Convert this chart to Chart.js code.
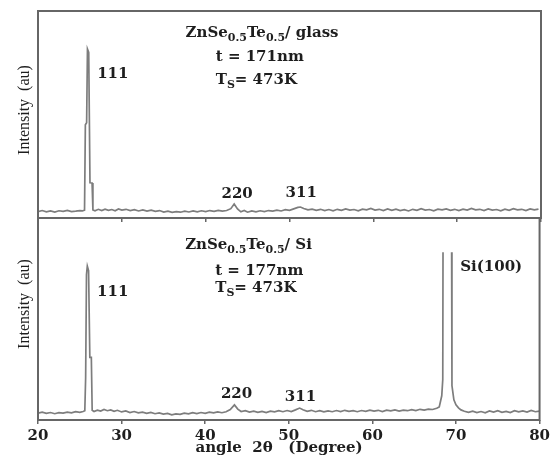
<!DOCTYPE html>
<html>
<head>
<meta charset="utf-8">
<script src="https://cdn.jsdelivr.net/npm/chart.js@4.4.0/dist/chart.umd.min.js"></script>
<style>
  body { margin: 0; background: #fff; }
  #wrap { position: relative; width: 553px; height: 455px; overflow: hidden; }
  canvas { position: absolute; left: 0; }
  #topChart { top: 0; }
  #bottomChart { top: 200px; }
</style>
</head>
<body>
<div id="wrap">
  <canvas id="topChart" width="553" height="240"></canvas>
  <canvas id="bottomChart" width="553" height="255"></canvas>
</div>
<script>
/////////////////////////// data ///////////////////////////
// XRD scan on glass (top panel): angle 2theta (deg) and intensity (au)
var anglesGlass = [
  20.0, 20.5, 21.0, 21.5, 22.0, 22.5, 23.0, 23.5, 24.0, 24.5, 25.0, 25.3, 25.55,
  25.65, 25.8, 25.9, 26.05, 26.2, 26.45, 26.55,
  26.8, 27.2, 27.6, 28.0, 28.4, 28.8, 29.2, 29.6, 30.0, 30.5, 31.0, 31.5, 32.0, 32.5,
  33.0, 33.5, 34.0, 34.5, 35.0, 35.5, 36.0, 36.5, 37.0, 37.5, 38.0, 38.5, 39.0, 39.5,
  40.0, 40.5, 41.0, 41.5, 42.0, 42.5, 43.0, 43.4, 43.8, 44.2, 44.6, 45.0, 45.5, 46.0,
  46.5, 47.0, 47.5, 48.0, 48.5, 49.0, 49.5, 50.0, 50.5, 51.0, 51.3, 51.7, 52.2, 52.7,
  53.2, 53.7, 54.2, 54.7, 55.2, 55.7, 56.2, 56.7, 57.2, 57.7, 58.2, 58.7, 59.2, 59.7,
  60.2, 60.7, 61.2, 61.7, 62.2, 62.7, 63.2, 63.7, 64.2, 64.7, 65.2, 65.7, 66.2, 66.7,
  67.2, 67.7, 68.2, 68.7, 69.2, 69.7, 70.2, 70.7, 71.2, 71.7, 72.2, 72.7, 73.2, 73.7,
  74.2, 74.7, 75.2, 75.7, 76.2, 76.7, 77.2, 77.7, 78.2, 78.7, 79.2, 79.7
];
var intensityGlass = [
  3.1, 3.6, 3.0, 3.4, 2.9, 3.5, 3.2, 3.7, 3.1, 3.3, 3.6, 3.4, 3.8,
  45, 46, 81.6, 80, 17, 16.9, 3.9,
  3.5, 4.2, 3.6, 4.3, 3.7, 4.1, 3.5, 4.4, 3.8, 4.2, 3.6, 4.0, 3.4, 3.9,
  3.3, 3.8, 3.2, 3.6, 2.9, 3.3, 2.7, 3.1, 2.8, 3.3, 2.9, 3.4, 3.0, 3.5,
  3.1, 3.6, 3.2, 3.7, 3.3, 3.6, 4.5, 6.8, 4.4, 3.0, 3.6, 2.8, 3.4, 3.0,
  3.5, 3.1, 3.6, 3.3, 3.8, 3.4, 4.0, 3.7, 4.4, 5.1, 5.3, 4.6, 3.9, 4.3,
  3.7, 4.2, 3.6, 4.1, 3.5, 4.2, 3.7, 4.4, 3.8, 4.1, 3.5, 4.3, 3.9, 4.6,
  3.8, 4.2, 3.6, 4.4, 3.7, 4.3, 3.6, 4.0, 3.4, 4.2, 3.7, 4.5, 3.8, 4.1,
  3.5, 4.3, 3.9, 4.4, 3.7, 4.2, 3.6, 4.3, 3.8, 4.6, 3.9, 4.2, 3.6, 4.4,
  3.8, 4.1, 3.5, 4.3, 3.7, 4.5, 3.9, 4.2, 3.6, 4.4, 3.9, 4.3
];

// XRD scan on Si (bottom panel); null = break in the trace at the Si(100) peak
var anglesSi = [
  20.0, 20.5, 21.0, 21.5, 22.0, 22.5, 23.0, 23.5, 24.0, 24.5, 25.0, 25.4, 25.6,
  25.7, 25.8, 25.9, 26.05, 26.2, 26.38, 26.48,
  26.7, 27.1, 27.5, 27.9, 28.3, 28.7, 29.1, 29.5, 30.0, 30.5, 31.0, 31.5, 32.0, 32.5,
  33.0, 33.5, 34.0, 34.5, 35.0, 35.5, 36.0, 36.5, 37.0, 37.5, 38.0, 38.5, 39.0, 39.5,
  40.0, 40.5, 41.0, 41.5, 42.0, 42.5, 43.0, 43.5, 43.9, 44.3, 44.8, 45.3, 45.8, 46.3,
  46.8, 47.3, 47.8, 48.3, 48.8, 49.3, 49.8, 50.3, 50.8, 51.3, 51.7, 52.2, 52.7, 53.2,
  53.7, 54.2, 54.7, 55.2, 55.7, 56.2, 56.7, 57.2, 57.7, 58.2, 58.7, 59.2, 59.7, 60.2,
  60.7, 61.2, 61.7, 62.2, 62.7, 63.2, 63.7, 64.2, 64.7, 65.2, 65.7, 66.2, 66.7, 67.2,
  67.7, 68.0, 68.3, 68.42, 68.45, 69.0, 69.48, 69.52, 69.75, 70.0, 70.3, 70.6,
  71.0, 71.5, 72.0, 72.5, 73.0, 73.5, 74.0, 74.5, 75.0, 75.5, 76.0, 76.5, 77.0, 77.5,
  78.0, 78.5, 79.0, 79.5, 80.0
];
var intensitySi = [
  3.4, 3.9, 3.3, 3.7, 3.1, 3.6, 3.4, 3.9, 3.5, 4.1, 3.8, 4.2, 4.6,
  21, 72, 76.2, 74, 31, 31, 4.8,
  4.2, 4.9, 4.4, 5.2, 4.6, 5.0, 4.3, 4.8, 4.0, 4.5, 3.7, 4.2, 3.5, 3.9,
  3.3, 3.8, 3.1, 3.5, 2.9, 3.3, 2.6, 3.0, 2.8, 3.4, 3.0, 3.6, 3.2, 3.7,
  3.3, 3.9, 3.5, 4.0, 3.6, 4.1, 5.2, 7.5, 5.4, 4.2, 4.6, 3.9, 4.4, 3.8,
  4.3, 3.7, 4.4, 4.0, 4.6, 4.1, 4.7, 4.2, 5.0, 5.9, 5.1, 4.3, 4.8, 4.1,
  4.6, 4.0, 4.5, 4.1, 4.7, 4.2, 4.8, 4.3, 4.6, 4.1, 4.7, 4.3, 4.9, 4.4,
  4.8, 4.2, 4.9, 4.5, 5.0, 4.4, 4.9, 4.6, 5.1, 4.7, 5.3, 4.9, 5.4, 5.2,
  5.8, 6.5, 12, 20, 83, null, 83, 17, 10, 7.5, 6.0, 5.0,
  4.3, 3.8, 4.4, 3.7, 4.2, 3.6, 4.5, 3.9, 4.6, 3.8, 4.3, 3.7, 4.6, 4.0,
  4.5, 3.9, 4.7, 4.1, 4.4
];

var angleTicks = [20, 30, 40, 50, 60, 70, 80];

/////////////////////////// styles ///////////////////////////
var traceColor = '#7d7d7d';
var frameColor = '#666666';
var textColor = '#1e1e1e';
var serifBold = '"DejaVu Serif", "Liberation Serif", serif';

// annotation text: [text, isSubscript]
var glassNotes = [
  { x: 37.6, y: 89.4, align: 'left', parts: [['ZnSe'], ['0.5', 1], ['Te'], ['0.5', 1], ['/ glass']] },
  { x: 41.2, y: 77.8, align: 'left', parts: [['t = 171nm']] },
  { x: 41.2, y: 66.7, align: 'left', parts: [['T'], ['S', 1], ['= 473K']] },
  { x: 27.06, y: 69.6, align: 'left', parts: [['111']] },
  { x: 43.75, y: 11.6, align: 'center', parts: [['220']] },
  { x: 51.4, y: 12.1, align: 'center', parts: [['311']] }
];
var siNotes = [
  { x: 37.6, y: 86.6, align: 'left', parts: [['ZnSe'], ['0.5', 1], ['Te'], ['0.5', 1], ['/ Si']] },
  { x: 41.2, y: 73.8, align: 'left', parts: [['t = 177nm']] },
  { x: 41.2, y: 65.2, align: 'left', parts: [['T'], ['S', 1], ['= 473K']] },
  { x: 27.06, y: 63.5, align: 'left', parts: [['111']] },
  { x: 43.75, y: 12.9, align: 'center', parts: [['220']] },
  { x: 51.4, y: 11.5, align: 'center', parts: [['311']] },
  { x: 70.5, y: 75.6, align: 'left', parts: [['Si(100)']] }
];

function toPoints(xs, ys) {
  return xs.map(function (a, i) { return { x: a, y: ys[i] }; });
}

function drawRich(ctx, x, y, parts, align, size) {
  var subSize = Math.round(size * 0.72);
  var total = 0;
  parts.forEach(function (p) {
    ctx.font = 'bold ' + (p[1] ? subSize : size) + 'px ' + serifBold;
    total += ctx.measureText(p[0]).width;
  });
  var cx = align === 'center' ? x - total / 2 : x;
  ctx.textAlign = 'left';
  ctx.textBaseline = 'middle';
  parts.forEach(function (p) {
    ctx.font = 'bold ' + (p[1] ? subSize : size) + 'px ' + serifBold;
    ctx.fillText(p[0], cx, y + (p[1] ? size * 0.32 : 0));
    cx += ctx.measureText(p[0]).width;
  });
}

// frame + notes + axis titles
var panelPlugin = {
  id: 'panel',
  afterDraw: function (chart) {
    var ctx = chart.ctx;
    var a = chart.chartArea;
    var o = chart.options.plugins.panel;
    ctx.save();
    ctx.strokeStyle = frameColor;
    ctx.lineWidth = 2;
    ctx.strokeRect(a.left, a.top, a.right - a.left, a.bottom - a.top);

    ctx.fillStyle = textColor;
    o.notes.forEach(function (n) {
      drawRich(ctx, chart.scales.x.getPixelForValue(n.x), chart.scales.y.getPixelForValue(n.y), n.parts, n.align, 15);
    });

    // y title
    ctx.save();
    ctx.translate(25, o.yTitleY);
    ctx.rotate(-Math.PI / 2);
    ctx.font = '16px "Liberation Serif", serif';
    ctx.textAlign = 'center';
    ctx.textBaseline = 'middle';
    ctx.fillText('Intensity  (au)', 0, 0);
    ctx.restore();

    if (o.xTitle) {
      ctx.font = 'bold 15px ' + serifBold;
      ctx.textAlign = 'center';
      ctx.textBaseline = 'middle';
      ctx.fillText(o.xTitle, 279, o.xTitleY);
    }
    ctx.restore();
  }
};

function makeChart(id, pts, notes, opts) {
  return new Chart(document.getElementById(id), {
    type: 'line',
    data: {
      datasets: [{
        data: pts,
        borderColor: traceColor,
        borderWidth: 1.7,
        pointRadius: 0,
        tension: 0,
        spanGaps: false
      }]
    },
    plugins: [panelPlugin],
    options: {
      responsive: false,
      animation: false,
      layout: { padding: { left: 38, right: 12, top: opts.padTop, bottom: 0 } },
      plugins: {
        legend: { display: false },
        tooltip: { enabled: false },
        panel: { notes: notes, yTitleY: opts.yTitleY, xTitle: opts.xTitle, xTitleY: opts.xTitleY }
      },
      scales: {
        x: {
          type: 'linear',
          min: 20,
          max: 80,
          afterBuildTicks: function (s) { s.ticks = angleTicks.map(function (v) { return { value: v }; }); },
          ticks: {
            display: opts.showTicks,
            color: textColor,
            padding: 3,
            maxRotation: 0,
            font: { family: serifBold, size: 15, weight: 'bold' }
          },
          grid: { drawOnChartArea: false, drawTicks: true, tickLength: 4, color: frameColor, lineWidth: 1.5 },
          border: { display: false },
          afterFit: function (s) { s.height = opts.xHeight; }
        },
        y: { min: 0, max: 100, display: false }
      }
    }
  });
}

makeChart('topChart', toPoints(anglesGlass, intensityGlass), glassNotes,
  { padTop: 11, xHeight: 22, showTicks: false, yTitleY: 110 });

makeChart('bottomChart', toPoints(anglesSi, intensitySi), siNotes,
  { padTop: 18, xHeight: 35, showTicks: true, yTitleY: 104, xTitle: 'angle  2\u03b8   (Degree)', xTitleY: 248 });
</script>
</body>
</html>
